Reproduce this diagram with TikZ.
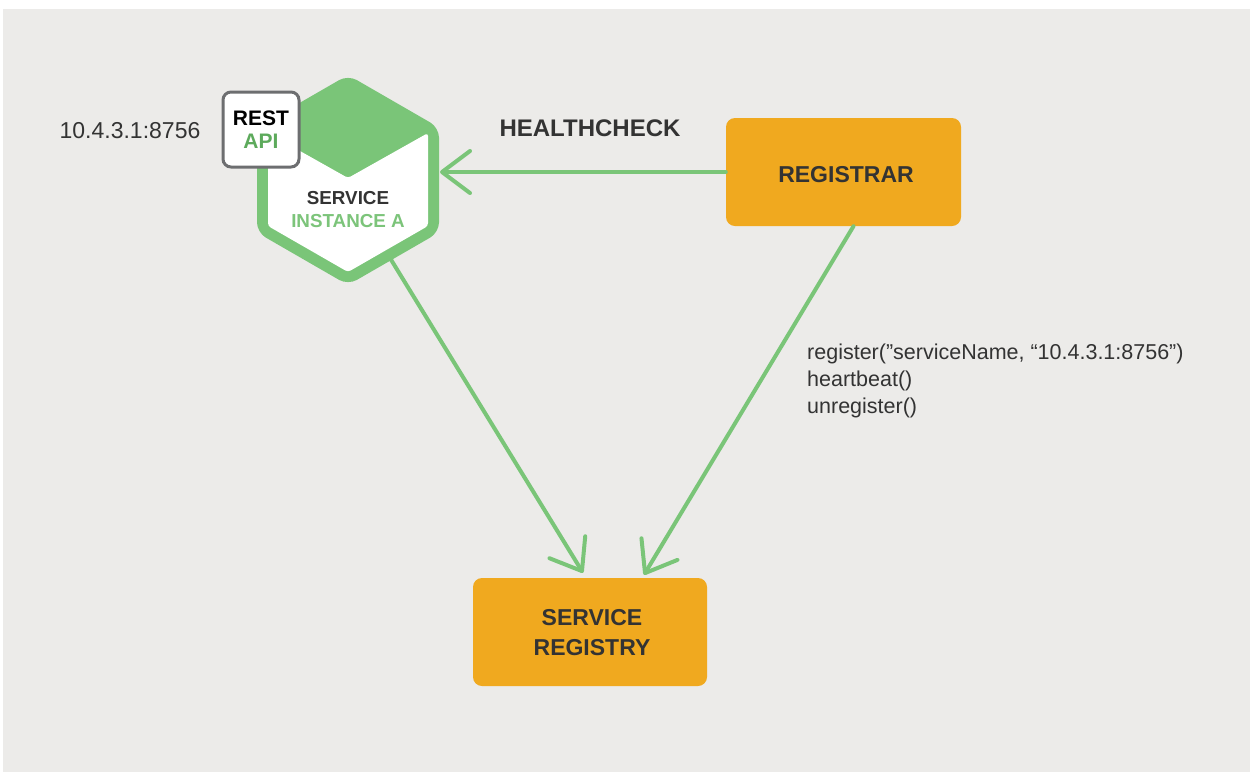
\documentclass[tikz,border=0pt]{standalone}
\usepackage{fontspec}
\setmainfont{Liberation Sans}
\usetikzlibrary{arrows.meta}
\definecolor{bg}{HTML}{ECEBE9}
\definecolor{hexgreen}{HTML}{7AC578}
\definecolor{txtgreen}{HTML}{7CC47A}
\definecolor{apigreen}{HTML}{5DAA5C}
\definecolor{boxorange}{HTML}{F0A91F}
\definecolor{darktext}{HTML}{333333}
\definecolor{apigray}{HTML}{6D6E70}
\tikzset{
  flow/.style={draw=hexgreen, line width=4pt, line cap=round, line join=round,
    -{Straight Barb[length=28pt, width=42pt, line width=4pt, round]}},
  orangebox/.style={fill=boxorange, rounded corners=9pt, inner sep=0pt},
  boxtext/.style={text=darktext, font=\bfseries\fontsize{23}{30}\selectfont, align=center, inner sep=0pt},
  plain/.style={text=darktext, inner sep=0pt},
}
\begin{document}
\begin{tikzpicture}[x=1pt, y=-1pt]
\useasboundingbox (0,0) rectangle (1250,772);
\fill[white] (0,0) rectangle (1250,772);
\fill[bg] (3,9) rectangle (1250,772);
% hexagon
\fill[hexgreen, rounded corners=10pt] (348,75) -- (439,127.5) -- (439,232.5) -- (348,285) -- (257,232.5) -- (257,127.5) -- cycle;
\fill[white, rounded corners=3pt] (348,178) -- (428,133) -- (428,226) -- (348,272) -- (268,226) -- (268,133) -- cycle;
\node[inner sep=0pt, minimum size=1pt] (hex) at (348,180) {};
\coordinate (hexR) at (440,172);
\coordinate (hexB) at (390,258);
\node[text=darktext, font=\bfseries\fontsize{18.8}{22}\selectfont, inner sep=0pt] (svc) at (348,198) {SERVICE};
\node[text=txtgreen, font=\bfseries\fontsize{18.8}{22}\selectfont, inner sep=0pt] (inst) at (348,221) {INSTANCE A};
% REST API box
\node[draw=apigray, line width=3pt, fill=white, rounded corners=8pt, minimum width=76pt, minimum height=75pt, inner sep=0pt] (api) at (261,129.5) {};
\node[font=\bfseries\fontsize{21}{24}\selectfont, inner sep=0pt] (rest) at (261,118) {REST};
\node[text=apigreen, font=\bfseries\fontsize{21}{24}\selectfont, inner sep=0pt] (apitxt) at (261,141) {API};
% address
\node[plain, font=\fontsize{23}{26}\selectfont] (addr) at (130,131) {10.4.3.1:8756};
% registrar
\node[orangebox, minimum width=235pt, minimum height=108pt] (reg) at (843.5,172) {};
\node[boxtext] (regtxt) at (846,175) {REGISTRAR};
% service registry
\node[orangebox, minimum width=234pt, minimum height=108pt] (srv) at (590,632) {};
\node[boxtext] (srvtxt) at (592,633) {SERVICE\\REGISTRY};
% healthcheck label
\node[plain, font=\bfseries\fontsize{24}{26}\selectfont] (hc) at (590,128) {HEALTHCHECK};
% register text
\node[plain, anchor=north west, align=left, font=\fontsize{21.5}{27}\selectfont] (calls) at (807,344) {register(”serviceName, “10.4.3.1:8756”)\\heartbeat()\\unregister()};
% arrows
\draw[flow] (reg.west) -- (hexR);
\draw[flow] (hexB) -- ([xshift=-7pt, yshift=5pt]srv.north);
\draw[flow] ([xshift=10pt]reg.south) -- ([xshift=54pt, yshift=3pt]srv.north);
\end{tikzpicture}
\end{document}
